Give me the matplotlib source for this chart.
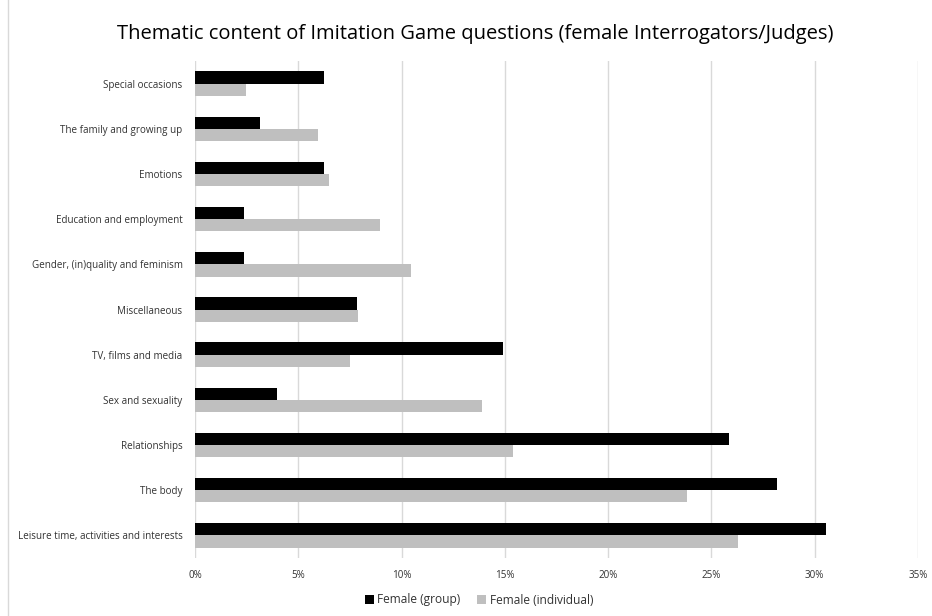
import numpy as np
import matplotlib
matplotlib.use("Agg")
from matplotlib import pyplot as plt
from matplotlib.ticker import PercentFormatter
from matplotlib.lines import Line2D

plt.rcParams['font.family'] = ['Open Sans', 'DejaVu Sans']

categories = ['Special occasions', 'The family and growing up', 'Emotions',
              'Education and employment', 'Gender, (in)quality and feminism',
              'Miscellaneous', 'TV, films and media', 'Sex and sexuality',
              'Relationships', 'The body', 'Leisure time, activities and interests']
group = [6.24, 3.16, 6.24, 2.37, 2.37, 7.84, 14.92, 3.97, 25.85, 28.19, 30.54]
individual = [2.48, 5.95, 6.5, 8.95, 10.45, 7.89, 7.5, 13.9, 15.4, 23.8, 26.27]
xticks = [0, 5, 10, 15, 20, 25, 30, 35]

fig = plt.figure(figsize=(9.32, 6.16), dpi=100)
ax = fig.add_axes([195/932, 1-558/616, (918-195)/932, (558-61)/616])

y = np.arange(len(categories))
h = 0.27
ax.barh(y - h/2, group, height=h, color='black', label='Female (group)', zorder=3)
ax.barh(y + h/2, individual, height=h, color='#bfbfbf', label='Female (individual)', zorder=3)

ax.set_xlim(0, 35)
ax.set_ylim(len(categories) - 0.5, -0.5)
ax.set_xticks(xticks)
ax.xaxis.set_major_formatter(PercentFormatter(decimals=0))
ax.set_yticks(y)
ax.set_yticklabels(categories)
ax.tick_params(axis='both', length=0, labelsize=7.1, colors='#333333')
ax.tick_params(axis='y', pad=9)
ax.tick_params(axis='x', pad=9)
ax.grid(axis='x', color='#d9d9d9', linewidth=1, zorder=0)
for s in ax.spines.values():
    s.set_visible(False)

fig.text(475/932, 1-34/616, 'Thematic content of Imitation Game questions (female Interrogators/Judges)',
         ha='center', va='center', fontsize=14.5, color='black')

ax.legend(loc='center', bbox_to_anchor=(479/932, 1-600/616), bbox_transform=fig.transFigure,
          ncol=2, frameon=False, fontsize=8.6, handlelength=0.75, handleheight=0.75,
          handletextpad=0.3, columnspacing=1.4, labelcolor='#333333')

fig.add_artist(Line2D([8/932, 8/932], [0, 1], color='#d9d9d9', linewidth=1))

fig.savefig('out.png', dpi=100)
